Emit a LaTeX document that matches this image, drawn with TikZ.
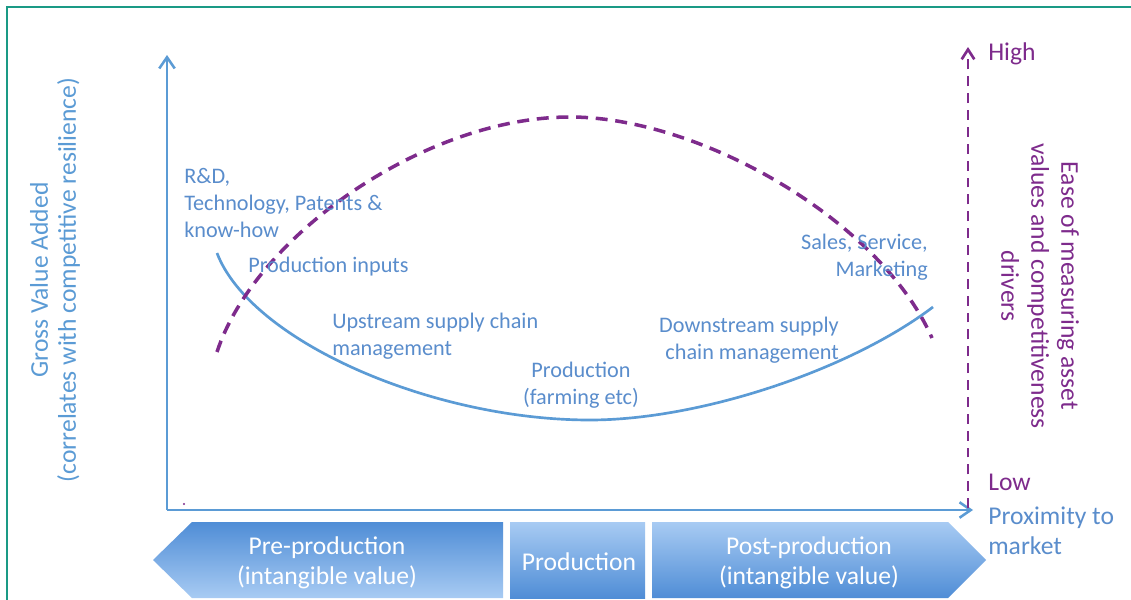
\documentclass[tikz,border=0pt]{standalone}
\usepackage{fontspec}
\setmainfont{Carlito}
\usepackage{xcolor}
\definecolor{cMain}{HTML}{5B9BD5}
\definecolor{cText}{HTML}{5A8DCC}
\definecolor{cPurple}{HTML}{7E2B8C}
\definecolor{cFrame}{HTML}{1A9A85}
\definecolor{cBandDark}{HTML}{4F8DD6}
\definecolor{cBandLight}{HTML}{A8CBF3}
\usetikzlibrary{arrows.meta}
\tikzset{
  axis-line/.style={line width=1.8pt,draw=cMain,
    -{Straight Barb[length=8pt,width=11pt]}},
  ease-axis/.style={line width=1.9pt,draw=cPurple,
    dash pattern=on 7pt off 5pt,-{Straight Barb[length=7pt,width=9pt]}},
  value-curve/.style={line width=1.9pt,draw=cMain},
  ease-curve/.style={line width=2.5pt,draw=cPurple,
    dash pattern=on 8.5pt off 5.5pt},
  stage-label/.style={text=cText,inner sep=0pt,
    font=\fontsize{15.8}{19.1}\selectfont},
  axis-label/.style={inner sep=0pt,font=\fontsize{18.2}{21.3}\selectfont},
  band-label/.style={axis-label,text=white,align=center},
  % pre-production fades downwards, the other two upwards
  band-down/.style={top color=cBandDark,bottom color=cBandLight},
  band-up/.style={top color=cBandLight,bottom color=cBandDark},
}

\begin{document}
\begin{tikzpicture}[x=0.025cm,y=-0.025cm]
  \clip (0,0) rectangle (1131,599);
  \fill[white] (0,0) rectangle (1131,599);
  \draw[cFrame,line width=1.5pt] (7,7) rectangle (1150,620);

  % axes
  \coordinate (o) at (167,510);
  \coordinate (ytip) at (167,55);
  \coordinate (xtip) at (973,510);
  \coordinate (ebot) at (968,508);
  \coordinate (etop) at (968,47);
  \draw[axis-line] (o) -- (ytip);
  \draw[axis-line] (o) -- (xtip);
  \draw[ease-axis] (ebot) -- (etop);
  \fill[cPurple] (184,504) circle (1.2);

  % value curve (smile) and ease-of-measuring curve
  \coordinate (v0) at (217,253);
  \coordinate (vmin) at (590,420);
  \coordinate (v1) at (933,307);
  \draw[value-curve] (v0) .. controls (250,340) and (430,420) .. (vmin)
    .. controls (700,420) and (850,370) .. (v1);
  \coordinate (e0) at (217,352);
  \coordinate (etopc) at (570,117);
  \coordinate (e1) at (932,338);
  \draw[ease-curve] (e0) .. controls (255,236) and (425,117) .. (etopc)
    .. controls (700,117) and (880,220) .. (e1);

  % stage labels
  \node[stage-label,anchor=west,align=left] (rd) at (184,203)
    {R\&D,\\Technology, Patents \&\\know-how};
  \node[stage-label,anchor=west] (inputs) at (248,267) {Production inputs};
  \node[stage-label,anchor=west,align=left] (up) at (332,336)
    {Upstream supply chain\\management};
  \node[stage-label,align=center] (prod) at (581,385)
    {Production\\(farming etc)};
  \node[stage-label,anchor=east,align=right] (down) at (839,340)
    {Downstream supply\\chain management};
  \node[stage-label,anchor=east,align=right] (sales) at (928,257)
    {Sales, Service,\\Marketing};

  % axis labels
  \node[axis-label,text=cMain,align=center,rotate=90,
    font=\fontsize{18.2}{19.9}\selectfont] (gva) at (55,280)
    {Gross Value Added\\(correlates with competitive resilience)};
  \node[axis-label,text=cPurple,align=center,rotate=-90] (ease) at (1040,286)
    {Ease of measuring asset\\values and competitiveness\\drivers};
  \node[axis-label,text=cPurple,anchor=west] (high) at (988,54) {High};
  \node[axis-label,text=cPurple,anchor=west] (low) at (988,482) {Low};
  \node[axis-label,text=cText,anchor=west,align=left] (market) at (988,531)
    {Proximity to\\market};

  % stage bands
  \shade[band-down] (153,560) -- (192,522) -- (503,522) -- (503,598)
    -- (192,598) -- cycle;
  \shade[band-up] (510,522) rectangle (645,598);
  \shade[band-up] (652,522) -- (948,522) -- (986,560) -- (948,598)
    -- (652,598) -- cycle;
  \node[band-label] (pre) at (327,563) {Pre-production\\(intangible value)};
  \node[band-label] (mid) at (579,562) {Production};
  \node[band-label] (post) at (809,563) {Post-production\\(intangible value)};
\end{tikzpicture}
\end{document}
